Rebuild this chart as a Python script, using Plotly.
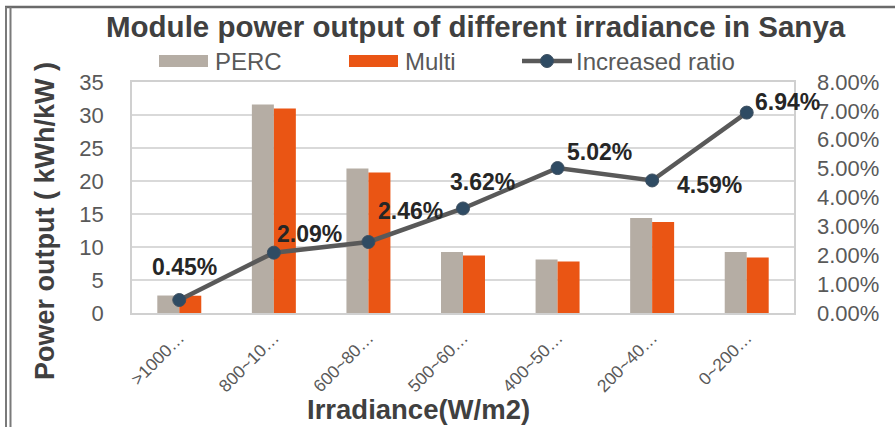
import plotly.graph_objects as go

# Irradiance bins (tick labels as shown, truncated)
categories = [">1000…", "800~10…", "600~80…", "500~60…", "400~50…", "200~40…", "0~200…"]
perc = [2.65, 31.6, 21.9, 9.25, 8.1, 14.4, 9.25]
multi = [2.62, 31.0, 21.3, 8.7, 7.8, 13.8, 8.4]
increased_ratio = [0.0045, 0.0209, 0.0246, 0.0362, 0.0502, 0.0459, 0.0694]

# label offsets (px) for the ratio labels
label_dx = [5, 36, 42, 19, 42, 57, 41]
label_dy = [33, 19, 31, 26, 16, -5, 11]

W, H = 895, 427
L, R, T, B = 132, 794, 82, 313  # plot area in pixels

def px(x):
    return (x - L) / (R - L)

def py(y):
    return (B - y) / (B - T)

FONT = "Liberation Sans, Arial, sans-serif"
GRAY_TXT = "#595959"
PERC_C = "#B5ADA4"
MULTI_C = "#EA5514"
LINE_C = "#595959"
MARK_C = "#2F4B63"

fig = go.Figure()
fig.add_trace(go.Bar(x=categories, y=perc, name="PERC", marker=dict(color=PERC_C, line=dict(width=0))))
fig.add_trace(go.Bar(x=categories, y=multi, name="Multi", marker=dict(color=MULTI_C, line=dict(width=0))))
fig.add_trace(go.Scatter(
    x=categories, y=increased_ratio, name="Increased ratio", yaxis="y2",
    mode="lines+markers",
    line=dict(color=LINE_C, width=4.5),
    marker=dict(color=MARK_C, size=13, line=dict(color="#3d4f60", width=1)),
))

annotations = []
for c, v, dx, dy in zip(categories, increased_ratio, label_dx, label_dy):
    annotations.append(dict(
        x=c, y=v, xref="x", yref="y2", text=f"{v*100:.2f}%", showarrow=False,
        xshift=dx, yshift=dy, xanchor="center", yanchor="middle",
        font=dict(family=FONT, size=23, color="#262626", weight="bold"),
    ))

# title and axis titles
annotations.append(dict(
    x=px(476), y=py(27), xref="paper", yref="paper", showarrow=False,
    text="<b>Module power output of different irradiance in Sanya</b>",
    xanchor="center", yanchor="middle",
    font=dict(family=FONT, size=29.5, color="#404040"),
))
annotations.append(dict(
    x=px(45), y=py(221), xref="paper", yref="paper", showarrow=False,
    text="<b>Power output ( kWh/kW )</b>", textangle=-90,
    xanchor="center", yanchor="middle",
    font=dict(family=FONT, size=27, color="#404040"),
))
annotations.append(dict(
    x=px(418), y=py(409), xref="paper", yref="paper", showarrow=False,
    text="<b>Irradiance(W/m2)</b>",
    xanchor="center", yanchor="middle",
    font=dict(family=FONT, size=27.5, color="#404040"),
))

# legend entries
legend_items = [("PERC", 213), ("Multi", 403), ("Increased ratio", 574)]
for txt, x0 in legend_items:
    annotations.append(dict(
        x=px(x0), y=py(61), xref="paper", yref="paper", showarrow=False,
        text=txt, xanchor="left", yanchor="middle",
        font=dict(family=FONT, size=24, color=GRAY_TXT),
    ))

shapes = [
    dict(type="rect", xref="paper", yref="paper", x0=px(159), x1=px(208), y0=py(67), y1=py(55),
         fillcolor=PERC_C, line=dict(width=0)),
    dict(type="rect", xref="paper", yref="paper", x0=px(349), x1=px(398), y0=py(67), y1=py(55),
         fillcolor=MULTI_C, line=dict(width=0)),
    dict(type="line", xref="paper", yref="paper", x0=px(522), x1=px(572), y0=py(61), y1=py(61),
         line=dict(color=LINE_C, width=4.5)),
    dict(type="circle", xref="paper", yref="paper", x0=px(540.5), x1=px(553.5), y0=py(67.5), y1=py(54.5),
         fillcolor=MARK_C, line=dict(color="#3d4f60", width=1)),
    # outer frame
    dict(type="line", xref="paper", yref="paper", x0=px(5), x1=px(895), y0=py(7), y1=py(7),
         line=dict(color="#6a6a6a", width=2.5)),
    dict(type="line", xref="paper", yref="paper", x0=px(6), x1=px(6), y0=py(7), y1=py(427),
         line=dict(color="#7a7a7a", width=2)),
    dict(type="line", xref="paper", yref="paper", x0=px(10.5), x1=px(10.5), y0=py(7), y1=py(427),
         line=dict(color="#7a7a7a", width=2)),
]

fig.update_layout(
    width=W, height=H,
    margin=dict(l=L, r=W - R, t=T, b=H - B, pad=0),
    paper_bgcolor="white", plot_bgcolor="white",
    barmode="group", bargap=0.535, bargroupgap=0,
    showlegend=False,
    font=dict(family=FONT, color=GRAY_TXT),
    annotations=annotations,
    shapes=shapes,
    xaxis=dict(
        type="category", range=[-0.5, len(categories) - 0.5], autorange=False,
        tickangle=-45,
        tickfont=dict(family=FONT, size=17.5, color=GRAY_TXT),
        showline=True, linecolor="#D0D0D0", linewidth=1.5, mirror=True,
        showgrid=False, ticks="", ticklabelstandoff=6,
    ),
    yaxis=dict(
        range=[0, 35], autorange=False, dtick=5, tickfont=dict(family=FONT, size=22, color=GRAY_TXT),
        showgrid=True, gridcolor="#D9D9D9", gridwidth=1.5,
        showline=True, linecolor="#D0D0D0", linewidth=1.5, mirror=True,
        zeroline=False, ticks="", ticklabelstandoff=22,
    ),
    yaxis2=dict(
        overlaying="y", side="right", range=[0, 0.08], autorange=False, dtick=0.01, tickformat=".2%",
        tickfont=dict(family=FONT, size=22, color=GRAY_TXT),
        showgrid=False, zeroline=False, ticks="", ticklabelstandoff=22,
    ),
)

fig.write_html("out.html")
